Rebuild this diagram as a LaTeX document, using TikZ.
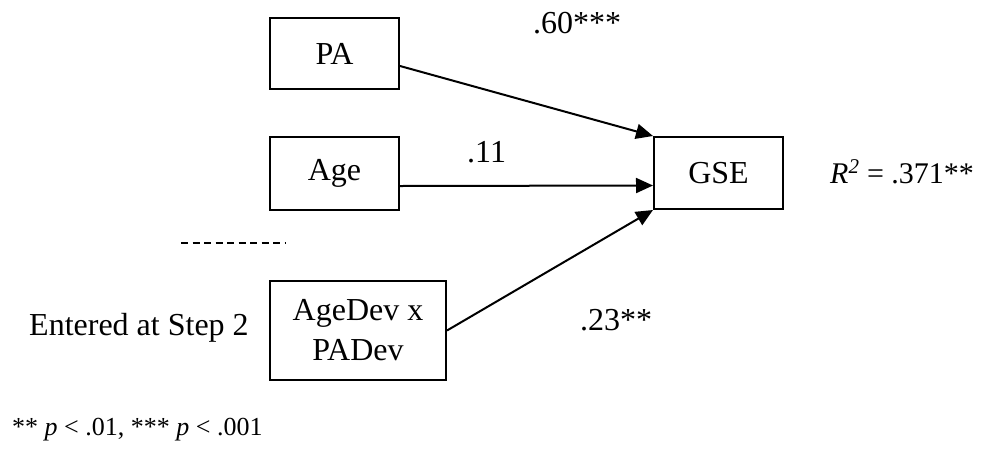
\documentclass[tikz,border=0pt]{standalone}
\usepackage{fontspec}
\setmainfont{Liberation Serif}
\usetikzlibrary{arrows.meta}
\begin{document}
\begin{tikzpicture}[x=1pt,y=-1pt,
  box/.style={draw, line width=2pt, inner sep=0pt, align=center,
    font=\fontsize{32}{40}\selectfont},
  lbl/.style={font=\fontsize{32}{38}\selectfont, inner sep=0pt, anchor=base west},
  note/.style={font=\fontsize{26}{31}\selectfont, inner sep=0pt, anchor=base west},
  arr/.style={line width=2pt, -{Triangle[length=17pt,width=15pt]}}]
\useasboundingbox (0,0) rectangle (991,448);
% boxes
\node[box, minimum width=129pt, minimum height=71pt] (PA) at (334.5,53.5) {PA};
\node[box, minimum width=129pt, minimum height=73pt] (Age) at (334.5,173.5) {Age};
\node[box, minimum width=176pt, minimum height=99pt] (AgeDev) at (358,330.5) {AgeDev x\\PADev};
\node[box, minimum width=129pt, minimum height=72pt] (GSE) at (718.5,173) {GSE};
% arrows
\draw[arr] ([yshift=-12.5pt]PA.east) -- (GSE.north west);
\draw[arr] ([yshift=-12.5pt]Age.east) -- ([yshift=-12.5pt]GSE.west);
\draw[arr] (AgeDev.east) -- (GSE.south west);
% labels
\node[lbl] (l60) at (533,33) {.60***};
\node[lbl] (l11) at (467,162) {.11};
\node[lbl] (l23) at (580,330) {.23**};
\node[lbl, font=\fontsize{30}{36}\selectfont] (rsq) at (830,183) {\textit{R}\textsuperscript{\textit{2}} = .371**};
\node[lbl] (step) at (29,335) {Entered at Step 2};
\node[note] (foot) at (12,435) {** \textit{p} < .01, *** \textit{p} < .001};
% dashed separator
\coordinate (d1) at (181,243);
\coordinate (d2) at (286,243);
\draw[line width=1.3pt, dash pattern=on 7pt off 4.5pt] (d1) -- (d2);
\end{tikzpicture}
\end{document}
